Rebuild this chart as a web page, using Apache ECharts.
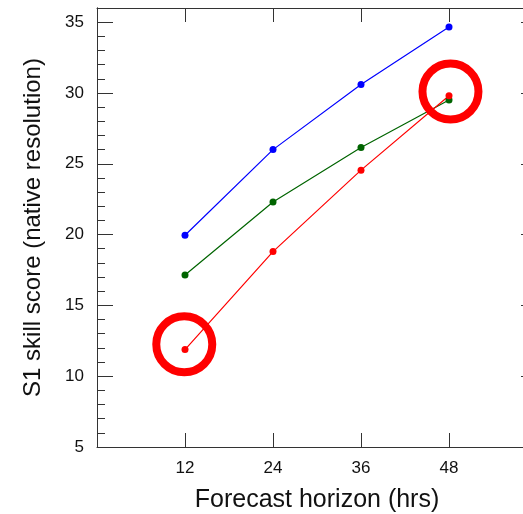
<!DOCTYPE html>
<html><head><meta charset="utf-8">
<script src="https://cdn.jsdelivr.net/npm/echarts@6/dist/echarts.min.js"></script>
<style>html,body{margin:0;padding:0;background:#fff}#c{width:523px;height:514px}</style>
</head><body><div id="c"></div>
<script>
const horizons = [12, 24, 36, 48];
const blueScores = [19.95, 26.0, 30.6, 34.65];
const greenScores = [17.15, 22.3, 26.15, 29.5];
const redScores = [11.88, 18.8, 24.55, 29.8];
const highlightX = [11.9, 48.2];
const highlightY = [12.25, 30.1];
const xTickLabels = ['12', '24', '36', '48'];

const pairs = ys => horizons.map((h, i) => [h, ys[i]]);
const font = 'Liberation Sans, Arial, Helvetica, sans-serif';
const axisCol = '#333';

function lineSeries(ys, color) {
  return {
    type: 'line', data: pairs(ys), symbol: 'circle', symbolSize: 7,
    lineStyle: { color: color, width: 1.2 }, itemStyle: { color: color },
    silent: true, animation: false, z: 3
  };
}
function yAx(pos, interval, len, extra) {
  return Object.assign({
    type: 'value', min: 5, max: 36, interval: interval, position: pos,
    axisLine: { show: true, lineStyle: { color: axisCol, width: 1 } },
    axisTick: { inside: true, length: len, lineStyle: { color: axisCol } },
    axisLabel: { show: false }, splitLine: { show: false }
  }, extra || {});
}
function xAx(pos, extra) {
  return Object.assign({
    type: 'value', min: 0, max: 60, interval: 12, position: pos,
    axisLine: { show: true, lineStyle: { color: axisCol, width: 1 } },
    axisTick: { inside: true, length: 14, lineStyle: { color: axisCol } },
    axisLabel: { show: false }, splitLine: { show: false }
  }, extra || {});
}

const chart = echarts.init(document.getElementById('c'), null, { renderer: 'canvas' });
chart.setOption({
  animation: false,
  backgroundColor: '#fff',
  grid: { left: 97, top: 8, width: 440, height: 439, outerBoundsMode: 'none', containLabel: false },
  xAxis: [
    xAx('bottom', {
      name: 'Forecast horizon (hrs)', nameLocation: 'middle', nameGap: 41,
      nameTextStyle: { fontFamily: font, fontSize: 25, color: '#111' },
      axisLabel: { show: true, fontFamily: font, fontSize: 17, color: '#111', margin: 13,
        formatter: v => xTickLabels.includes(String(v)) ? String(v) : '' }
    }),
    xAx('top', { axisTick: { show: true, inside: true, length: 14, lineStyle: { color: axisCol } } })
  ],
  yAxis: [
    yAx('left', 5, 16, {
      name: 'S1 skill score (native resolution)', nameLocation: 'middle', nameGap: 52,
      nameTextStyle: { fontFamily: font, fontSize: 24, color: '#111' },
      axisLabel: { show: true, fontFamily: font, fontSize: 17, color: '#111', margin: 13, showMaxLabel: false }
    }),
    yAx('left', 1, 8),
    yAx('right', 5, 16, { axisLine: { show: false } }),
    yAx('right', 1, 8, { axisLine: { show: false }, axisTick: { show: false } })
  ],
  series: [
    lineSeries(blueScores, '#0000ff'),
    lineSeries(greenScores, '#006400'),
    lineSeries(redScores, '#ff0000'),
    {
      type: 'scatter', data: highlightX.map((x, i) => [x, highlightY[i]]),
      symbol: 'circle', symbolSize: 56, silent: true, z: 5,
      itemStyle: { color: 'rgba(0,0,0,0)', borderColor: '#ff0000', borderWidth: 8, opacity: 1 }
    }
  ]
});
</script></body></html>
